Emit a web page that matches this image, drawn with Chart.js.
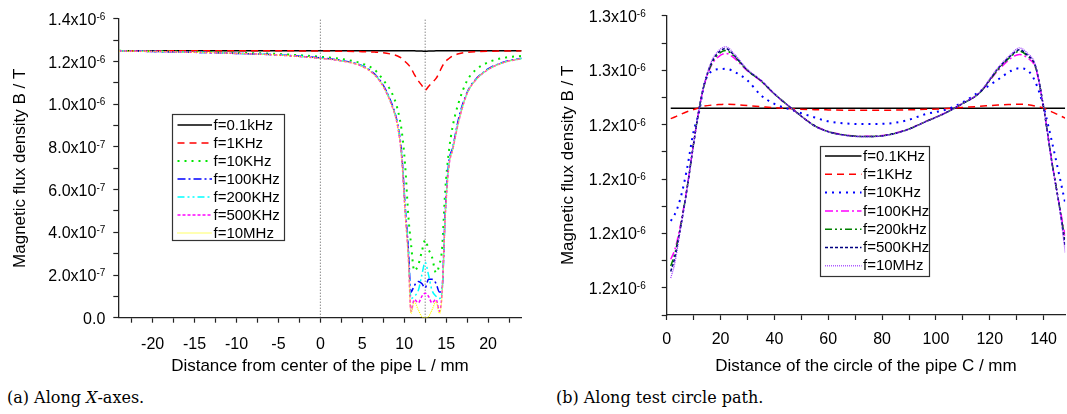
<!DOCTYPE html>
<html lang="en">
<head>
    <meta charset="UTF-8">
    <title>Magnetic flux density</title>
    <style>
        body { margin: 0; background: #fff; width: 1067px; height: 414px; position: relative; overflow: hidden; }
        .panel { position: absolute; top: 0; height: 385px; }
        #left { left: 0; width: 540px; }
        #right { left: 540px; width: 527px; }
        .caption { position: absolute; top: 389px; font-family: "DejaVu Serif", "Liberation Serif", serif; font-size: 16px; line-height: 17px; color: #000; }
    </style>
</head>
<body>
    <div class="panel" id="left"><canvas id="chartL" width="540" height="385"></canvas></div>
    <div class="panel" id="right"><canvas id="chartR" width="527" height="385"></canvas></div>
    <div class="caption" style="left:7px">(a) Along <i>X</i>-axes.</div>
    <div class="caption" style="left:556px">(b) Along test circle path.</div>

    <script src="https://cdn.jsdelivr.net/npm/chart.js"></script>
    <script>
        // all B values below are in units of 1e-6 T

        // ---- (a) along X axis ----
        const xL = [-24, -20, -15, -10, -5, 0, 2.5, 5, 6.5, 7.5, 8.5, 9.2, 9.7, 10.1, 10.5, 10.8, 11.2, 11.7, 12.1, 12.5,
                    12.9, 13.3, 13.8, 14.2, 14.5, 14.9, 15.3, 15.8, 16.5, 17.5, 18.5, 20, 22, 24];
        const f01kL = [1.25, 1.25, 1.25, 1.25, 1.25, 1.25, 1.25, 1.25, 1.25, 1.25, 1.25, 1.25, 1.25, 1.25, 1.25, 1.25, 1.25, 1.249, 1.249, 1.248,
                       1.249, 1.249, 1.25, 1.25, 1.25, 1.25, 1.25, 1.25, 1.25, 1.25, 1.25, 1.25, 1.25, 1.25];
        const f1kL = [1.25, 1.25, 1.25, 1.25, 1.25, 1.249, 1.248, 1.246, 1.244, 1.241, 1.234, 1.226, 1.215, 1.2, 1.185, 1.17, 1.14, 1.108, 1.088, 1.066,
                      1.083, 1.1, 1.121, 1.15, 1.175, 1.199, 1.213, 1.226, 1.236, 1.243, 1.246, 1.248, 1.249, 1.25];
        const f10kL = [1.25, 1.248, 1.245, 1.241, 1.235, 1.222, 1.212, 1.19, 1.16, 1.113, 1.055, 0.978, 0.875, 0.72, 0.473, 0.35, 0.22, 0.25, 0.31, 0.364,
                       0.32, 0.286, 0.21, 0.25, 0.317, 0.6, 0.77, 0.9, 1.008, 1.11, 1.16, 1.196, 1.218, 1.226];
        const f100kL = [1.249, 1.247, 1.243, 1.238, 1.231, 1.217, 1.205, 1.18, 1.14, 1.088, 1.004, 0.91, 0.77, 0.53, 0.32, 0.12, 0.15, 0.17, 0.16, 0.14,
                        0.18, 0.18, 0.16, 0.12, 0.13, 0.5, 0.72, 0.8, 0.935, 1.055, 1.115, 1.165, 1.199, 1.215];
        const f200kL = [1.249, 1.247, 1.243, 1.238, 1.231, 1.216, 1.204, 1.179, 1.138, 1.086, 1.0, 0.905, 0.76, 0.52, 0.31, 0.09, 0.1, 0.13, 0.2, 0.26,
                        0.2, 0.13, 0.1, 0.09, 0.12, 0.49, 0.71, 0.795, 0.925, 1.052, 1.113, 1.163, 1.198, 1.214];
        const f500kL = [1.249, 1.247, 1.243, 1.238, 1.23, 1.215, 1.203, 1.177, 1.136, 1.083, 0.996, 0.9, 0.75, 0.5, 0.28, 0.03, 0.085, 0.07, 0.1, 0.115,
                        0.1, 0.07, 0.085, 0.03, 0.11, 0.48, 0.7, 0.79, 0.92, 1.05, 1.112, 1.162, 1.197, 1.213];
        const f10mL = [1.249, 1.247, 1.243, 1.238, 1.23, 1.215, 1.203, 1.177, 1.135, 1.082, 0.995, 0.9, 0.75, 0.5, 0.27, 0.02, 0.075, 0.035, 0.005, 0.0,
                       0.005, 0.035, 0.075, 0.02, 0.1, 0.48, 0.7, 0.79, 0.92, 1.05, 1.112, 1.162, 1.197, 1.213];
        const namesL = ['f=0.1kHz', 'f=1KHz', 'f=10KHz', 'f=100KHz', 'f=200KHz', 'f=500KHz', 'f=10MHz'];
        const markerXL = [0, 12.5];   // dotted guide lines

        const xTicksL = [-22.5, -20, -17.5, -15, -12.5, -10, -7.5, -5, -2.5, 0, 2.5, 5, 7.5, 10, 12.5, 15, 17.5, 20, 22.5];
        const xTickLabelsL = ['', '-20', '', '-15', '', '-10', '', '-5', '', '0', '', '5', '', '10', '', '15', '', '20', ''];
        const yTicksL = [0, 0.1, 0.2, 0.3, 0.4, 0.5, 0.6, 0.7, 0.8, 0.9, 1.0, 1.1, 1.2, 1.3, 1.4];
        const yTickLabelsL = ['0.0', '', '2.0x10^-7', '', '4.0x10^-7', '', '6.0x10^-7', '', '8.0x10^-7', '', '1.0x10^-6', '', '1.2x10^-6', '', '1.4x10^-6'];

        // ---- (b) along test circle ----
        const xR = [1.5, 3, 5, 7.5, 10, 12, 14, 17, 20, 22, 25, 30, 35, 40, 47, 55, 60, 67, 74, 81, 89, 96, 104, 110, 116, 123, 128, 131, 134, 137, 140, 143, 146, 148];
        const f01kR = [1.246, 1.246, 1.246, 1.246, 1.246, 1.246, 1.246, 1.246, 1.246, 1.246, 1.246, 1.246, 1.246, 1.246, 1.246, 1.246, 1.246,
                       1.246, 1.246, 1.246, 1.246, 1.246, 1.246, 1.246, 1.246, 1.246, 1.246, 1.246, 1.246, 1.246, 1.246, 1.246, 1.246, 1.246];
        const f1kR = [1.2422, 1.2428, 1.2437, 1.2447, 1.2455, 1.2462, 1.2468, 1.2472, 1.2474, 1.2475, 1.2474, 1.247, 1.2466, 1.2462, 1.2458, 1.2455, 1.2454,
                      1.2453, 1.2453, 1.2453, 1.2454, 1.2456, 1.2459, 1.2463, 1.2467, 1.2472, 1.2474, 1.2475, 1.2473, 1.2468, 1.246, 1.2447, 1.2433, 1.2424];
        const f10kR = [1.2046, 1.207, 1.2125, 1.2235, 1.2375, 1.2445, 1.255, 1.2598, 1.2604, 1.2605, 1.2595, 1.2562, 1.2508, 1.2476, 1.2452, 1.2426, 1.2412,
                       1.2404, 1.2402, 1.2403, 1.2415, 1.2438, 1.2456, 1.2482, 1.252, 1.2565, 1.2598, 1.2607, 1.26, 1.2555, 1.2465, 1.234, 1.2205, 1.2112];
        const f100kR = [1.1905, 1.194, 1.2025, 1.2165, 1.2332, 1.2455, 1.2548, 1.2625, 1.2655, 1.2662, 1.2645, 1.2597, 1.256, 1.2512, 1.2455, 1.2396, 1.2375,
                        1.2361, 1.2357, 1.2361, 1.2381, 1.2411, 1.2446, 1.2478, 1.2515, 1.2598, 1.2645, 1.2658, 1.2645, 1.2608, 1.2462, 1.2268, 1.2095, 1.199];
        const f200kR = [1.188, 1.1925, 1.2018, 1.2162, 1.2331, 1.2455, 1.2549, 1.263, 1.2665, 1.2672, 1.2652, 1.2599, 1.2561, 1.2513, 1.2455, 1.2395, 1.2374,
                        1.236, 1.2356, 1.236, 1.238, 1.241, 1.2445, 1.2478, 1.2515, 1.2602, 1.2652, 1.267, 1.2652, 1.2612, 1.2462, 1.2266, 1.2092, 1.197];
        const f500kR = [1.186, 1.191, 1.2013, 1.216, 1.233, 1.2455, 1.255, 1.2635, 1.2672, 1.2679, 1.2655, 1.26, 1.2562, 1.2513, 1.2455, 1.2395, 1.2374,
                        1.236, 1.2356, 1.236, 1.238, 1.241, 1.2445, 1.2478, 1.2515, 1.2605, 1.2655, 1.2675, 1.2655, 1.2614, 1.2462, 1.2265, 1.209, 1.195];
        const f10mR = [1.1836, 1.189, 1.2008, 1.2158, 1.2329, 1.2455, 1.2552, 1.264, 1.2678, 1.2686, 1.2661, 1.2603, 1.2564, 1.2514, 1.2455, 1.2394, 1.2373,
                       1.2359, 1.2355, 1.2359, 1.2379, 1.2409, 1.2445, 1.2479, 1.2517, 1.2609, 1.266, 1.2682, 1.2662, 1.2618, 1.2463, 1.2262, 1.2085, 1.193];
        const namesR = ['f=0.1KHz', 'f=1KHz', 'f=10KHz', 'f=100KHz', 'f=200kHz', 'f=500KHz', 'f=10MHz'];

        const xTicksR = [0, 10, 20, 30, 40, 50, 60, 70, 80, 90, 100, 110, 120, 130, 140];
        const xTickLabelsR = ['0', '', '20', '', '40', '', '60', '', '80', '', '100', '', '120', '', '140'];
        const yTicksR = [1.17, 1.18, 1.19, 1.2, 1.21, 1.22, 1.23, 1.24, 1.25, 1.26, 1.27, 1.28];
        const yTickLabelsR = ['', '1.2x10^-6', '', '1.2x10^-6', '', '1.2x10^-6', '', '1.2x10^-6', '', '1.3x10^-6', '', '1.3x10^-6'];

        const fontFam = '"Liberation Sans", Arial, sans-serif';

        // line looks, same order as the series
        const stylesL = [
            { color: '#000000', width: 1.5, dash: [] },
            { color: '#ff0000', width: 1.5, dash: [7, 5] },
            { color: '#00e600', width: 2, dash: [2, 5] },
            { color: '#0000ff', width: 1.5, dash: [8, 3, 2, 3] },
            { color: '#00ffff', width: 1.5, dash: [7, 3, 2, 3, 2, 3] },
            { color: '#ff00ff', width: 1.5, dash: [3, 2] },
            { color: '#ffff00', width: 1.2, dash: [1, 1] }
        ];
        const stylesR = [
            { color: '#000000', width: 1.5, dash: [] },
            { color: '#ff0000', width: 1.5, dash: [7, 5] },
            { color: '#0000ff', width: 2, dash: [2, 5] },
            { color: '#ff00ff', width: 1.5, dash: [8, 3, 2, 3] },
            { color: '#008000', width: 1.5, dash: [7, 3, 2, 3, 2, 3] },
            { color: '#000080', width: 1.5, dash: [3, 2] },
            { color: '#9933ff', width: 1.2, dash: [1, 1] }
        ];

        function series(xs, ys, name, st, i, n) {
            return {
                label: name,
                data: xs.map((x, k) => ({ x: x, y: ys[k] })),
                borderColor: st.color,
                borderWidth: st.width,
                borderDash: st.dash,
                pointRadius: 0,
                fill: false,
                cubicInterpolationMode: 'monotone',
                order: n - i   // later series on top
            };
        }

        // y tick labels with a raised exponent, e.g. 1.2x10^-6
        const supTicks = {
            id: 'supTicks',
            afterDraw(chart, args, opts) {
                const s = chart.scales.y;
                const ctx = chart.ctx;
                ctx.save();
                ctx.fillStyle = '#000';
                ctx.textAlign = 'right';
                ctx.textBaseline = 'alphabetic';
                s.ticks.forEach((t, i) => {
                    const lab = opts.labels[i];
                    if (!lab) return;
                    const parts = lab.split('^');
                    const y = s.getPixelForValue(t.value);
                    const right = s.right - opts.gap;
                    let ew = 0;
                    if (parts[1]) {
                        ctx.font = '10px ' + fontFam;
                        ew = ctx.measureText(parts[1]).width;
                        ctx.fillText(parts[1], right, y + 1);
                    }
                    ctx.font = '16px ' + fontFam;
                    ctx.fillText(parts[0], right - ew, y + 6);
                });
                ctx.restore();
            }
        };

        // framed legend sitting inside the plot
        const boxLegend = {
            id: 'boxLegend',
            afterDraw(chart, args, o) {
                const ctx = chart.ctx;
                ctx.save();
                ctx.fillStyle = '#fff';
                ctx.fillRect(o.x, o.y, o.w, o.h);
                ctx.strokeStyle = '#333';
                ctx.lineWidth = 1.2;
                ctx.strokeRect(o.x + 0.5, o.y + 0.5, o.w, o.h);
                chart.data.datasets.filter(d => !d.marker).forEach((d, i) => {
                    const y = o.y + o.first + i * o.row;
                    ctx.strokeStyle = d.borderColor;
                    ctx.lineWidth = d.borderWidth;
                    ctx.setLineDash(d.borderDash);
                    ctx.beginPath();
                    ctx.moveTo(o.x + o.inset, y);
                    ctx.lineTo(o.x + o.inset + o.len, y);
                    ctx.stroke();
                    ctx.setLineDash([]);
                    ctx.fillStyle = '#000';
                    ctx.font = '15px ' + fontFam;
                    ctx.textAlign = 'left';
                    ctx.textBaseline = 'middle';
                    ctx.fillText(d.label, o.x + o.inset + o.len + 1.5, y + 0.5);
                });
                ctx.restore();
            }
        };

        function xAxis(min, max, ticks, labels, height, pad, title) {
            return {
                type: 'linear',
                min: min,
                max: max,
                afterBuildTicks: s => { s.ticks = ticks.map(v => ({ value: v })); },
                afterFit: s => { s.height = height; },
                ticks: {
                    autoSkip: false, maxRotation: 0, padding: pad, color: '#000',
                    font: { size: 16, family: fontFam },
                    callback: (v, i) => labels[i]
                },
                grid: { drawOnChartArea: false, tickLength: 5, tickColor: '#222', tickWidth: 1.2 },
                border: { color: '#222', width: 1.3 },
                title: { display: true, text: title, color: '#000', font: { size: 17, family: fontFam }, padding: { top: 0, bottom: 8 } }
            };
        }

        function yAxis(min, max, ticks, width, titlePad) {
            return {
                type: 'linear',
                min: min,
                max: max,
                afterBuildTicks: s => { s.ticks = ticks.map(v => ({ value: v })); },
                afterFit: s => { s.width = width; },
                ticks: { display: false },
                grid: { drawOnChartArea: false, tickLength: 5, tickColor: '#222', tickWidth: 1.2 },
                border: { color: '#222', width: 1.3 },
                title: { display: true, text: 'Magnetic flux density B / T', color: '#000', font: { size: 17, family: fontFam }, padding: { top: titlePad, bottom: 0 } }
            };
        }

        // ---- chart (a) ----
        const seriesL = [f01kL, f1kL, f10kL, f100kL, f200kL, f500kL, f10mL];
        const dataL = seriesL.map((ys, i) => series(xL, ys, namesL[i], stylesL[i], i, seriesL.length));
        markerXL.forEach(mx => {
            dataL.push({
                marker: true,
                data: [{ x: mx, y: 0 }, { x: mx, y: 1.4 }],
                borderColor: '#555', borderWidth: 1, borderDash: [1, 2], pointRadius: 0,
                order: 20
            });
        });

        new Chart(document.getElementById('chartL'), {
            type: 'line',
            data: { datasets: dataL },
            options: {
                responsive: false,
                animation: false,
                events: [],
                layout: { padding: { top: 18.8, right: 18.4, left: 0, bottom: 0 } },
                scales: {
                    x: xAxis(-24.1, 24, xTicksL, xTickLabelsL, 67.3, 12, 'Distance from center of the pipe L / mm'),
                    y: yAxis(0, 1.4, yTicksL, 118.3, 10.5)
                },
                plugins: {
                    legend: { display: false },
                    tooltip: { enabled: false },
                    supTicks: { labels: yTickLabelsL, gap: 13 },
                    boxLegend: { x: 172, y: 114, w: 112, h: 126, first: 11, row: 18, inset: 5.5, len: 34.5 }
                }
            },
            plugins: [supTicks, boxLegend]
        });

        // ---- chart (b) ----
        const seriesR = [f01kR, f1kR, f10kR, f100kR, f200kR, f500kR, f10mR];
        const dataR = seriesR.map((ys, i) => series(xR, ys, namesR[i], stylesR[i], i, seriesR.length));

        new Chart(document.getElementById('chartR'), {
            type: 'line',
            data: { datasets: dataR },
            options: {
                responsive: false,
                animation: false,
                events: [],
                layout: { padding: { top: 15.8, right: 0, left: 0, bottom: 0 } },
                scales: {
                    x: xAxis(0, 148, xTicksR, xTickLabelsR, 70, 10, 'Distance of the circle of the pipe C / mm'),
                    y: yAxis(1.17, 1.28, yTicksR, 126.7, 18.4)
                },
                plugins: {
                    legend: { display: false },
                    tooltip: { enabled: false },
                    supTicks: { labels: yTickLabelsR, gap: 21 },
                    boxLegend: { x: 280, y: 146, w: 109, h: 130, first: 10, row: 18.3, inset: 5, len: 36.5 }
                }
            },
            plugins: [supTicks, boxLegend]
        });
    </script>
</body>
</html>
